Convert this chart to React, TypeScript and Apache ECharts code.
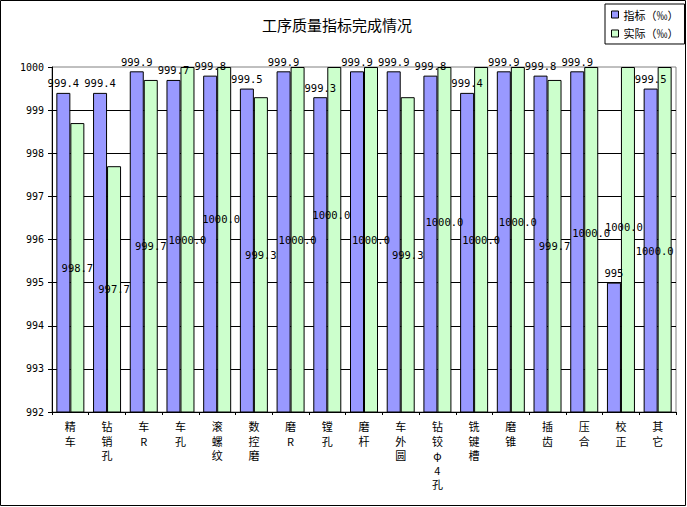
import React, { useEffect, useRef } from "react";
import * as echarts from "echarts";

const categories = [
  "精车", "钻销孔", "车R", "车孔", "滚螺纹", "数控磨", "磨R", "镗孔", "磨杆",
  "车外圆", "钻铰φ4孔", "铣键槽", "磨锥", "插齿", "压合", "校正", "其它",
];
const targetValues = [
  999.4, 999.4, 999.9, 999.7, 999.8, 999.5, 999.9, 999.3, 999.9,
  999.9, 999.8, 999.4, 999.9, 999.8, 999.9, 995, 999.5,
];
const actualValues = [
  998.7, 997.7, 999.7, 1000.0, 1000.0, 999.3, 1000.0, 1000.0, 1000.0,
  999.3, 1000.0, 1000.0, 1000.0, 999.7, 1000.0, 1000.0, 1000.0,
];
const seriesNames = ["指标（‰）", "实际（‰）"];
const yMin = 992;
const yMax = 1000;
const yStep = 1;

// label nudges (layout only) for the "actual" series labels, [dx, dy]
const actualLabelNudge: [number, number][] = [
  [0, 0], [0, 0], [0, 0], [0, 0], [-3, -21], [0, 0], [0, 0], [-3, -25], [0, 0],
  [0, 0], [0, -18], [0, 0], [0, -18], [0, 0], [0, -7], [-4, -13], [-10, 11],
];

const monoFont = "'DejaVu Sans Mono', monospace";
const cjkFont = "'Noto Sans CJK SC', sans-serif";

export default function App() {
  const ref = useRef<HTMLDivElement>(null);

  useEffect(() => {
    if (!ref.current) return;
    const chart = echarts.init(ref.current, undefined, { renderer: "svg" });
    chart.setOption({
      animation: false,
      backgroundColor: "#ffffff",
      title: {
        text: "工序质量指标完成情况",
        left: 262,
        top: 17,
        padding: 0,
        textStyle: { fontFamily: cjkFont, fontSize: 15, fontWeight: "normal", color: "#000" },
      },
      legend: {
        orient: "vertical",
        left: 605,
        top: 4,
        padding: [5, 6, 5, 6],
        itemGap: 8,
        itemWidth: 7,
        itemHeight: 7,
        borderColor: "#000",
        borderWidth: 1,
        backgroundColor: "#fff",
        icon: "rect",
        itemStyle: { borderColor: "#000", borderWidth: 1 },
        textStyle: { fontFamily: cjkFont, fontSize: 11, color: "#000" },
        data: seriesNames,
      },
      graphic: [
        {
          type: "rect",
          silent: true,
          z: 100,
          shape: { x: 0.5, y: 0.5, width: 685, height: 505 },
          style: { fill: "none", stroke: "#000", lineWidth: 1 },
        },
      ],
      grid: {
        left: 52,
        right: 11,
        top: 67,
        bottom: 95,
        show: true,
        borderColor: "#808080",
        borderWidth: 1,
        backgroundColor: "#fff",
      },
      xAxis: {
        type: "category",
        data: categories,
        axisLine: { lineStyle: { color: "#000", width: 1 } },
        axisTick: { show: true, length: 3, lineStyle: { color: "#000" } },
        axisLabel: {
          interval: 0,
          margin: 7,
          fontFamily: cjkFont,
          fontSize: 11,
          lineHeight: 14.5,
          color: "#000",
          formatter: (v: string) => Array.from(v).join("\n"),
        },
      },
      yAxis: {
        type: "value",
        min: yMin,
        max: yMax,
        interval: yStep,
        axisLine: { show: true, lineStyle: { color: "#000", width: 1 } },
        axisTick: { show: true, length: 4, lineStyle: { color: "#000" } },
        axisLabel: {
          fontFamily: monoFont,
          fontSize: 10,
          color: "#000",
          margin: 8,
          formatter: (v: number) => String(v),
        },
        splitLine: { show: true, showMaxLine: false, lineStyle: { color: "#000", width: 1 } },
      },
      series: [
        {
          name: seriesNames[0],
          type: "bar",
          barWidth: 14,
          barGap: "0%",
          data: targetValues,
          itemStyle: { color: "#9999FF", borderColor: "#000", borderWidth: 1 },
          label: {
            show: true,
            position: "top",
            distance: 4,
            fontFamily: monoFont,
            fontSize: 10.5,
            color: "#000",
            formatter: (p: any) => String(p.value),
          },
        },
        {
          name: seriesNames[1],
          type: "bar",
          barWidth: 14,
          barGap: "0%",
          data: actualValues.map((v, i) => ({
            value: v,
            label: { offset: actualLabelNudge[i] },
          })),
          itemStyle: { color: "#CCFFCC", borderColor: "#000", borderWidth: 1 },
          label: {
            show: true,
            position: "inside",
            fontFamily: monoFont,
            fontSize: 10.5,
            color: "#000",
            formatter: (p: any) => Number(p.value).toFixed(1),
          },
        },
      ],
    });
    return () => chart.dispose();
  }, []);

  return (
    <div
      ref={ref}
      style={{ position: "absolute", left: 0, top: 0, width: 687, height: 507 }}
    />
  );
}
